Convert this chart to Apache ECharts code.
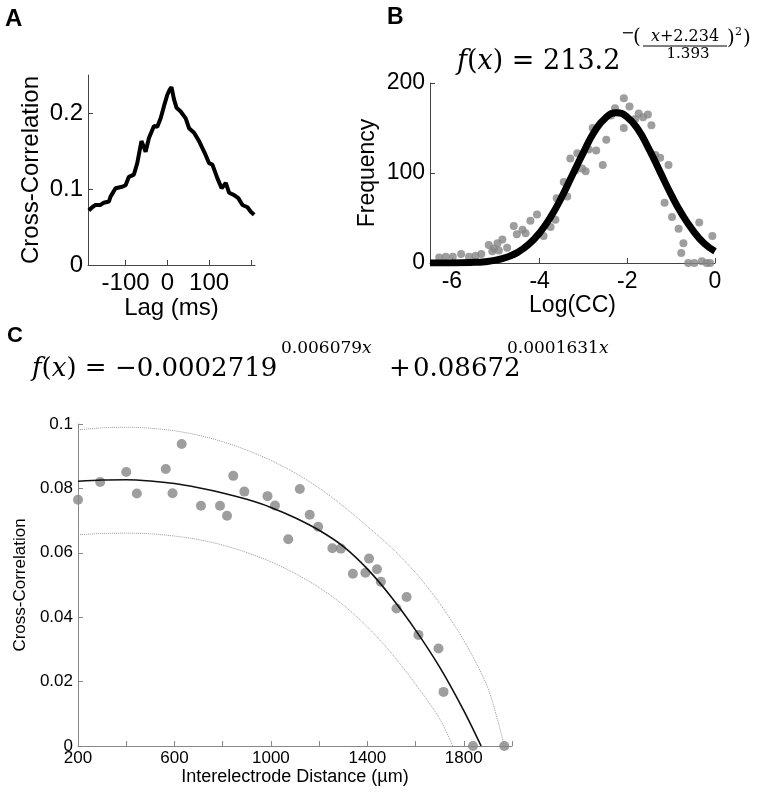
<!DOCTYPE html>
<html><head><meta charset="utf-8">
<script src="https://cdn.jsdelivr.net/npm/echarts@6/dist/echarts.min.js"></script>
<style>html,body{margin:0;padding:0;background:#fff}#c{width:760px;height:792px}</style>
</head><body><div id="c"></div>
<script>
// Panel A: cross-correlogram
const lagMs = [-188,-180,-172,-160,-152,-140,-136,-124,-116,-108,-100,-92,-80,-72,-62,-56,-52,-44,-32,-24,-16,-8,0,6,10,16,22,32,44,52,64,76,90,100,108,120,130,140,148,160,170,180,192,200,208];
const ccA = [0.0717,0.076,0.079,0.079,0.082,0.0835,0.090,0.101,0.102,0.103,0.105,0.116,0.119,0.134,0.163,0.155,0.149,0.167,0.183,0.182,0.193,0.209,0.224,0.231,0.234,0.218,0.207,0.202,0.193,0.180,0.174,0.163,0.147,0.134,0.132,0.114,0.101,0.108,0.095,0.092,0.088,0.079,0.076,0.070,0.066];
const lagTicks = [-100, 0, 100, 200];
const lagLabels = [-100, 0, 100];
const ccATicks = [0, 0.1, 0.2];

// Panel B: histogram of log(CC) with fit
const logCC = [-6.29,-6.14,-5.98,-5.79,-5.61,-5.46,-5.33,-5.16,-5.08,-5.04,-4.96,-4.93,-4.85,-4.74,-4.59,-4.52,-4.39,-4.32,-4.21,-4.06,-3.91,-3.75,-3.64,-3.61,-3.45,-3.37,-3.30,-3.18,-3.14,-3.03,-2.95,-2.88,-2.79,-2.71,-2.56,-2.48,-2.37,-2.28,-2.08,-2.08,-1.95,-1.82,-1.74,-1.64,-1.53,-1.45,-1.36,-1.25,-1.06,-1.15,-0.98,-0.83,-0.72,-0.77,-0.61,-0.47,-0.36,-0.30,-0.19,-0.11,-0.06];
const freq = [6,7,7,10,7,8,10,20,13,16,22,14,26,17,41,32,37,33,47,54,30,40,48,72,90,74,116,103,122,105,102,126,150,125,109,137,164,172,183,150,174,160,166,162,165,153,120,117,109,67,51,38,22,11,0,0,45,2,0,0,30];
const fitLogCC = [-6.5,-6,-5.5,-5.25,-5,-4.75,-4.5,-4.25,-4,-3.75,-3.5,-3.25,-3,-2.75,-2.5,-2.25,-2,-1.75,-1.5,-1.25,-1,-0.75,-0.5,-0.25,0];
const fitFreq = [0,0.1,0.7,1.5,3.2,6.4,11.8,20.6,33.5,51,73,98,123,146,161,167,162,148,126,101,76,54,36,22,13];
const logTicks = [-6, -4, -2, 0];

// Panel C: cross-correlation vs distance
const distance = [200,292,400,444,564,592,630,710,789,818,844,890,986,1017,1072,1120,1161,1196,1255,1290,1340,1392,1407,1440,1456,1521,1563,1612,1695,1716,1838,1968];
const ccC = [0.0765,0.082,0.0851,0.0784,0.086,0.0785,0.0938,0.0746,0.0746,0.0715,0.0839,0.079,0.0776,0.0747,0.0642,0.0798,0.0718,0.0681,0.0614,0.0613,0.0535,0.0538,0.0582,0.0549,0.051,0.0427,0.0463,0.0345,0.0303,0.0168,0,0];
const fitDist = [200,300,400,500,600,700,800,900,1000,1100,1200,1300,1400,1500,1600,1700,1800,1872];
const fitCC = [0.0822,0.0826,0.0827,0.0823,0.0815,0.0802,0.0786,0.0766,0.0741,0.0709,0.0670,0.0620,0.0550,0.0462,0.0360,0.0245,0.0110,0];
const upperDist = [200,300,400,500,600,700,800,900,1000,1100,1200,1300,1400,1500,1600,1700,1800,1900,1968];
const upperCC = [0.0982,0.0988,0.0990,0.0987,0.0979,0.0965,0.0945,0.0919,0.0887,0.0848,0.0801,0.0745,0.0682,0.0616,0.0538,0.0443,0.0328,0.0180,0];
const lowerDist = [200,300,400,500,600,700,800,900,1000,1100,1200,1300,1400,1500,1600,1700,1754];
const lowerCC = [0.0656,0.0660,0.0661,0.0659,0.0652,0.0641,0.0624,0.0601,0.0572,0.0536,0.0492,0.0438,0.0370,0.0288,0.0192,0.0085,0];
const distLabels = [200, 600, 1000, 1400, 1800];

const zip = (a, b) => a.map((v, i) => [v, b[i]]);
const SANS = '"Liberation Sans", Arial, sans-serif';
const SERIF = '"DejaVu Serif", serif';

const chart = echarts.init(document.getElementById('c'), null, {renderer: 'canvas'});

function mkAxis(color, fs, extra) {
  const o = {
    axisLine: {show: true, onZero: false, lineStyle: {color: color, width: 1}},
    axisTick: {show: true, inside: true, length: 5, lineStyle: {color: color}},
    axisLabel: {color: '#000', fontSize: fs, fontFamily: SANS},
    splitLine: {show: false},
    nameTextStyle: {color: '#000', fontSize: fs, fontFamily: SANS}
  };
  for (const k in extra) {
    if (o[k] && typeof extra[k] === 'object' && !Array.isArray(extra[k])) Object.assign(o[k], extra[k]);
    else o[k] = extra[k];
  }
  return o;
}
const ital = fs => ({i: {fontSize: fs, fontFamily: SERIF, fontStyle: 'italic', fill: '#000'}});

const option = {
  animation: false,
  backgroundColor: '#fff',
  textStyle: {fontFamily: SANS},
  grid: [
    {left: 88, top: 75, width: 167, height: 190, containLabel: false, outerBoundsMode: 'none'},
    {left: 430, top: 83, width: 285, height: 180, containLabel: false, outerBoundsMode: 'none'},
    {left: 78, top: 424, width: 434, height: 322, containLabel: false, outerBoundsMode: 'none'}
  ],
  xAxis: [
    mkAxis('#444', 24, {type: 'value', gridIndex: 0, min: -190, max: 210,
      axisTick: {customValues: lagTicks},
      axisLabel: {margin: 6, customValues: lagLabels},
      name: 'Lag (ms)', nameLocation: 'middle', nameGap: 31}),
    mkAxis('#444', 23, {type: 'value', gridIndex: 1, min: -6.5, max: 0,
      axisTick: {customValues: logTicks},
      axisLabel: {margin: 7, customValues: logTicks},
      name: 'Log(CC)', nameLocation: 'middle', nameGap: 31}),
    mkAxis('#888', 17, {type: 'value', gridIndex: 2, min: 200, max: 2000, interval: 200,
      axisLabel: {margin: 4, formatter: v => distLabels.indexOf(v) >= 0 ? String(v) : ''},
      name: 'Interelectrode Distance (\u00b5m)', nameLocation: 'middle', nameGap: 22,
      nameTextStyle: {fontSize: 18}})
  ],
  yAxis: [
    mkAxis('#444', 24, {type: 'value', gridIndex: 0, min: 0, max: 0.25,
      axisTick: {customValues: ccATicks},
      axisLabel: {margin: 5, customValues: ccATicks},
      name: 'Cross-Correlation', nameLocation: 'middle', nameGap: 45}),
    mkAxis('#444', 23, {type: 'value', gridIndex: 1, min: 0, max: 200, interval: 100,
      axisLabel: {margin: 5},
      name: 'Frequency', nameLocation: 'middle', nameGap: 51}),
    mkAxis('#888', 17, {type: 'value', gridIndex: 2, min: 0, max: 0.1, interval: 0.02,
      axisLabel: {margin: 5, formatter: v => String(+v.toFixed(2))},
      name: 'Cross-Correlation', nameLocation: 'middle', nameGap: 45})
  ],
  series: [
    {type: 'line', xAxisIndex: 0, yAxisIndex: 0, data: zip(lagMs, ccA), showSymbol: false,
      lineStyle: {color: '#000', width: 4}, z: 3},
    {type: 'scatter', xAxisIndex: 1, yAxisIndex: 1, data: zip(logCC, freq), symbolSize: 8,
      itemStyle: {color: '#868686'}, z: 2},
    {type: 'line', xAxisIndex: 1, yAxisIndex: 1, data: zip(fitLogCC, fitFreq), showSymbol: false,
      smooth: true, lineStyle: {color: '#000', width: 7}, z: 3},
    {type: 'line', xAxisIndex: 2, yAxisIndex: 2, data: zip(upperDist, upperCC), showSymbol: false,
      smooth: 0.3, lineStyle: {color: '#999', width: 1, type: 'dotted'}, z: 2},
    {type: 'line', xAxisIndex: 2, yAxisIndex: 2, data: zip(lowerDist, lowerCC), showSymbol: false,
      smooth: 0.3, lineStyle: {color: '#999', width: 1, type: 'dotted'}, z: 2},
    {type: 'scatter', xAxisIndex: 2, yAxisIndex: 2, data: zip(distance, ccC), symbolSize: 10,
      itemStyle: {color: '#868686'}, z: 3, clip: false},
    {type: 'line', xAxisIndex: 2, yAxisIndex: 2, data: zip(fitDist, fitCC), showSymbol: false,
      smooth: 0.3, lineStyle: {color: '#111', width: 1.6}, z: 4}
  ],
  graphic: [
    {type: 'text', x: 5, y: 19, style: {text: 'A', fontSize: 24, fontWeight: 'bold', fontFamily: SANS, fill: '#000', textVerticalAlign: 'middle'}},
    {type: 'text', x: 387, y: 18, style: {text: 'B', fontSize: 23, fontWeight: 'bold', fontFamily: SANS, fill: '#000', textVerticalAlign: 'middle'}},
    {type: 'text', x: 7, y: 336, style: {text: 'C', fontSize: 22, fontWeight: 'bold', fontFamily: SANS, fill: '#000', textVerticalAlign: 'middle'}},
    // Formula B
    {type: 'text', x: 457, y: 62, style: {text: '{i|f}({i|x}) = 213.2', fontSize: 27, fontFamily: SERIF, fill: '#000', textVerticalAlign: 'middle', rich: ital(27)}},
    {type: 'text', x: 621, y: 34, style: {text: '\u2212', fontSize: 16, fontFamily: SERIF, fill: '#000', textVerticalAlign: 'middle'}},
    {type: 'text', x: 633, y: 38, style: {text: '(', fontSize: 20, fontFamily: SERIF, fill: '#000', textVerticalAlign: 'middle'}},
    {type: 'text', x: 685, y: 37, style: {text: '{i|x}+2.234', fontSize: 16, fontFamily: SERIF, fill: '#000', textAlign: 'center', textVerticalAlign: 'middle', rich: ital(16)}},
    {type: 'line', shape: {x1: 643, y1: 46, x2: 727, y2: 46}, style: {stroke: '#000', lineWidth: 1}},
    {type: 'text', x: 688, y: 54, style: {text: '1.393', fontSize: 15, fontFamily: SERIF, fill: '#000', textAlign: 'center', textVerticalAlign: 'middle'}},
    {type: 'text', x: 727, y: 39, style: {text: ')', fontSize: 20, fontFamily: SERIF, fill: '#000', textVerticalAlign: 'middle'}},
    {type: 'text', x: 735, y: 32, style: {text: '2', fontSize: 11, fontFamily: SERIF, fill: '#000', textVerticalAlign: 'middle'}},
    {type: 'text', x: 743, y: 39, style: {text: ')', fontSize: 20, fontFamily: SERIF, fill: '#000', textVerticalAlign: 'middle'}},
    // Formula C
    {type: 'text', x: 32, y: 369, style: {text: '{i|f}({i|x}) = \u22120.0002719', fontSize: 26, fontFamily: SERIF, fill: '#000', textVerticalAlign: 'middle', rich: ital(26)}},
    {type: 'text', x: 281, y: 349, style: {text: '0.006079{i|x}', fontSize: 17, fontFamily: SERIF, fill: '#000', textVerticalAlign: 'middle', rich: ital(17)}},
    {type: 'text', x: 389, y: 369, style: {text: '+', fontSize: 26, fontFamily: SERIF, fill: '#000', textVerticalAlign: 'middle'}},
    {type: 'text', x: 413, y: 369, style: {text: '0.08672', fontSize: 26, fontFamily: SERIF, fill: '#000', textVerticalAlign: 'middle'}},
    {type: 'text', x: 507, y: 349, style: {text: '0.0001631{i|x}', fontSize: 17, fontFamily: SERIF, fill: '#000', textVerticalAlign: 'middle', rich: ital(17)}}
  ]
};
chart.setOption(option);
</script>
</body></html>
